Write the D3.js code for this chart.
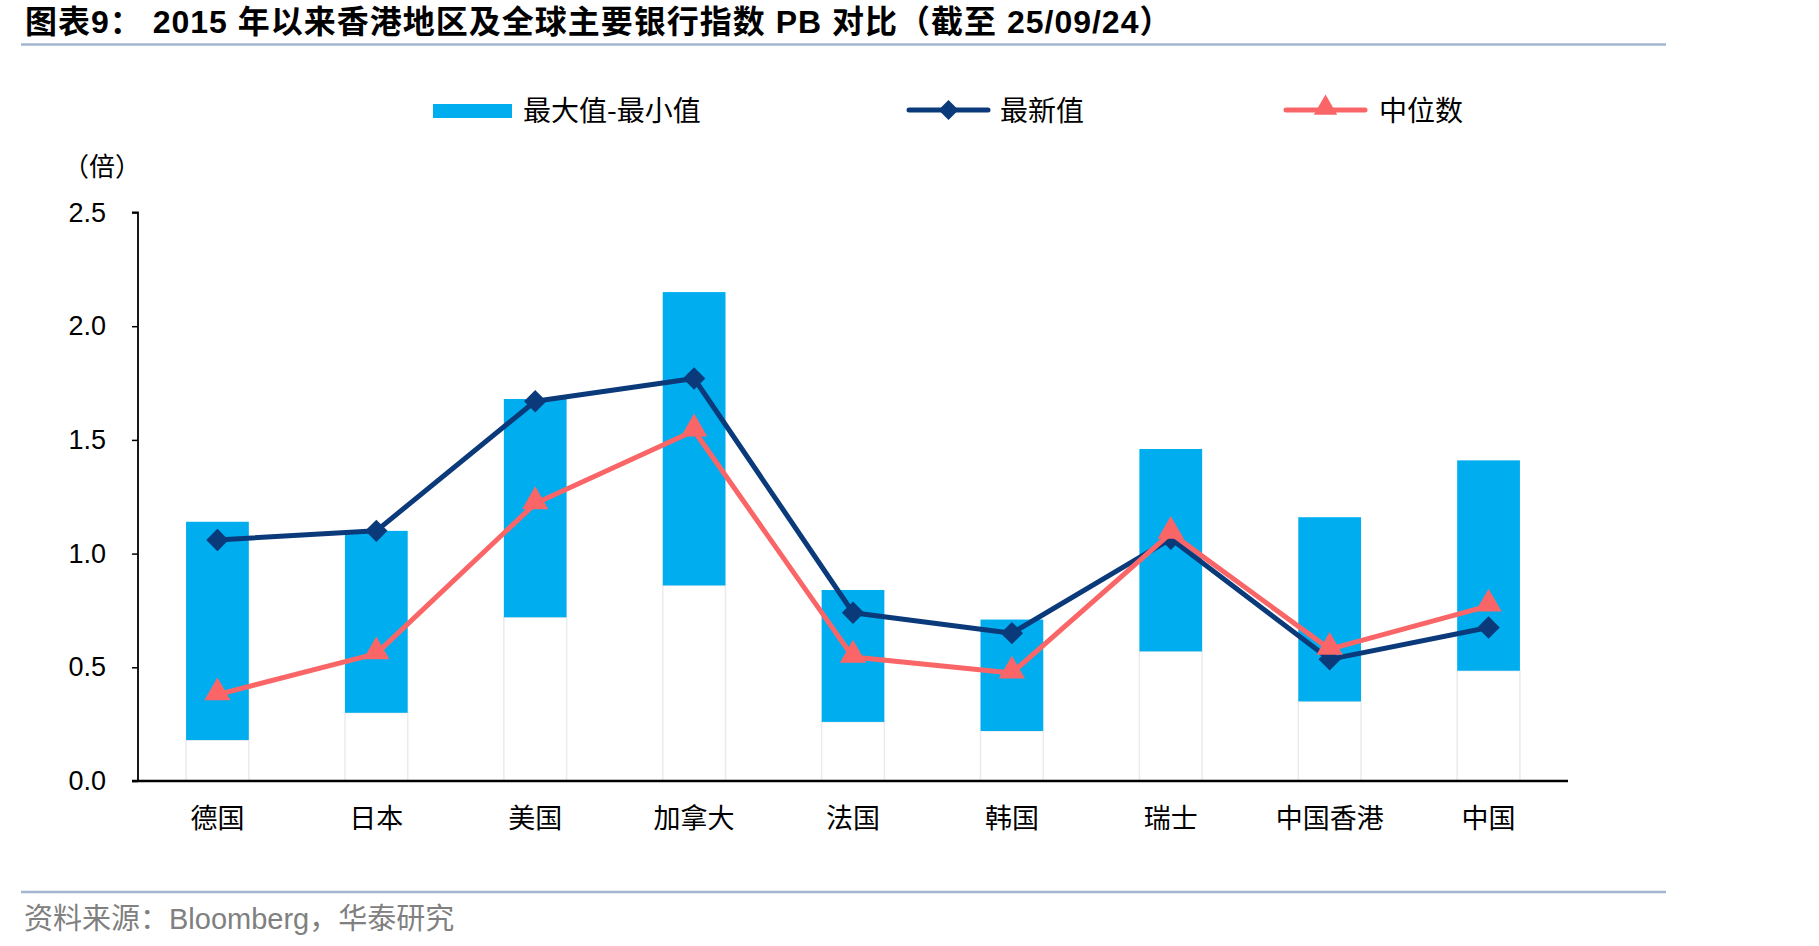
<!DOCTYPE html>
<html><head><meta charset="utf-8">
<script src="https://cdn.jsdelivr.net/npm/d3@7/dist/d3.min.js"></script>
<style>
html,body{margin:0;padding:0;background:#fff;}
svg{display:block;}
</style></head>
<body>
<svg id="chart" width="1819" height="946"></svg>
<script>
const categories = ["德国","日本","美国","加拿大","法国","韩国","瑞士","中国香港","中国"];
const maxValues = [1.14, 1.10, 1.68, 2.15, 0.84, 0.71, 1.46, 1.16, 1.41];
const minValues = [0.18, 0.30, 0.72, 0.86, 0.26, 0.22, 0.57, 0.35, 0.485];
const latestValues = [1.06, 1.10, 1.67, 1.77, 0.74, 0.65, 1.065, 0.535, 0.675];
const medianValues = [0.38, 0.56, 1.22, 1.54, 0.545, 0.475, 1.09, 0.58, 0.77];
const yTicks = [0, 0.5, 1.0, 1.5, 2.0, 2.5];
const legendLabels = ["最大值-最小值","最新值","中位数"];

(function(){
const C_BAR = "#00AEEF", C_LATEST = "#0B3A7B", C_MED = "#FA6667";
const CJK = "'Noto Sans CJK SC', 'Noto Sans CJK JP', sans-serif";
const LAT = "'Liberation Sans', Arial, 'Noto Sans CJK SC', sans-serif";

const svg = d3.select("#chart");
const pLeft = 138, pRight = 1568, pTop = 212.5, pBottom = 781;

const x = d3.scaleBand().domain(categories).range([pLeft, pRight]).paddingInner(0.605).paddingOuter(0.3025);
const y = d3.scaleLinear().domain([0, 2.5]).range([pBottom, pTop]);

// Title
svg.append("text").attr("x", 25).attr("y", 33).attr("font-family", LAT).attr("font-weight", "bold")
  .attr("font-size", 32).attr("letter-spacing", 1).attr("fill", "#000")
  .text("图表9： 2015 年以来香港地区及全球主要银行指数 PB 对比（截至 25/09/24）");
svg.append("line").attr("x1", 21).attr("x2", 1666).attr("y1", 44.5).attr("y2", 44.5)
  .attr("stroke", "#A3B6CF").attr("stroke-width", 2.5);

// Bottom rule and source
svg.append("line").attr("x1", 21).attr("x2", 1666).attr("y1", 892).attr("y2", 892)
  .attr("stroke", "#A3B6CF").attr("stroke-width", 2.5);
svg.append("text").attr("x", 24).attr("y", 929).attr("font-family", LAT)
  .attr("font-size", 29).attr("fill", "#808080").text("资料来源：Bloomberg，华泰研究");

// Unit label
svg.append("text").attr("x", 63).attr("y", 176).attr("font-family", CJK)
  .attr("font-size", 26).attr("fill", "#000").text("（倍）");

// Legend
const lg = svg.append("g");
lg.append("rect").attr("x", 433).attr("y", 104).attr("width", 79).attr("height", 14).attr("fill", C_BAR);
lg.append("text").attr("x", 523).attr("y", 121).attr("font-family", CJK).attr("font-size", 28).text(legendLabels[0]);
lg.append("line").attr("x1", 909).attr("x2", 988).attr("y1", 110).attr("y2", 110)
  .attr("stroke", C_LATEST).attr("stroke-width", 5).attr("stroke-linecap", "round");
lg.append("path").attr("transform", "translate(948.5,110) rotate(45)")
  .attr("d", d3.symbol().type(d3.symbolSquare).size(200)()).attr("fill", C_LATEST);
lg.append("text").attr("x", 1000).attr("y", 121).attr("font-family", CJK).attr("font-size", 28).text(legendLabels[1]);
lg.append("line").attr("x1", 1286).attr("x2", 1365).attr("y1", 110).attr("y2", 110)
  .attr("stroke", C_MED).attr("stroke-width", 5).attr("stroke-linecap", "round");
lg.append("path").attr("transform", "translate(1325.5,108)")
  .attr("d", d3.symbol().type(d3.symbolTriangle).size(240)()).attr("fill", C_MED);
lg.append("text").attr("x", 1379).attr("y", 121).attr("font-family", CJK).attr("font-size", 28).text(legendLabels[2]);

// Bars: invisible base (0 to min) and visible range (min to max)
const bars = svg.append("g");
bars.selectAll("rect.base").data(categories).join("rect").attr("class", "base")
  .attr("x", d => x(d)).attr("width", x.bandwidth())
  .attr("y", (d, i) => y(minValues[i])).attr("height", (d, i) => y(0) - y(minValues[i]))
  .attr("fill", "#fff").attr("stroke", "#EBEBEB").attr("stroke-width", 1.5);
bars.selectAll("rect.range").data(categories).join("rect").attr("class", "range")
  .attr("x", d => x(d)).attr("width", x.bandwidth())
  .attr("y", (d, i) => y(maxValues[i])).attr("height", (d, i) => y(minValues[i]) - y(maxValues[i]))
  .attr("fill", C_BAR);

// Axes
const yAxis = svg.append("g").attr("transform", `translate(${pLeft},0)`)
  .call(d3.axisLeft(y).tickValues(yTicks).tickFormat(d3.format(".1f")).tickSize(6).tickPadding(26));
yAxis.select(".domain").attr("stroke", "#000").attr("stroke-width", 1.8).attr("d", `M-6,${pTop}H0V${pBottom}`);
yAxis.selectAll(".tick line").attr("stroke", "#000").attr("stroke-width", 1.5);
yAxis.selectAll(".tick text").attr("font-family", LAT).attr("font-size", 27).attr("fill", "#000");

const xAxis = svg.append("g").attr("transform", `translate(0,${pBottom})`)
  .call(d3.axisBottom(x).tickSize(0).tickPadding(23));
xAxis.select(".domain").attr("stroke", "#000").attr("stroke-width", 2.5).attr("d", `M${pLeft - 6},0H${pRight}`);
xAxis.selectAll(".tick text").attr("font-family", CJK).attr("font-size", 27).attr("fill", "#000").attr("dy", "0.9em");

const cx = (d) => x(d) + x.bandwidth() / 2;

// Latest line
const lineGen = d3.line().x((v, i) => cx(categories[i])).y(v => y(v));
svg.append("path").attr("d", lineGen(latestValues)).attr("fill", "none")
  .attr("stroke", C_LATEST).attr("stroke-width", 5).attr("stroke-linejoin", "round");
svg.append("g").selectAll("path").data(latestValues).join("path")
  .attr("transform", (v, i) => `translate(${cx(categories[i])},${y(v)}) rotate(45)`)
  .attr("d", d3.symbol().type(d3.symbolSquare).size(250)()).attr("fill", C_LATEST);

// Median line
svg.append("path").attr("d", lineGen(medianValues)).attr("fill", "none")
  .attr("stroke", C_MED).attr("stroke-width", 5).attr("stroke-linejoin", "round");
svg.append("g").selectAll("path").data(medianValues).join("path")
  .attr("transform", (v, i) => `translate(${cx(categories[i])},${y(v) - 2})`)
  .attr("d", d3.symbol().type(d3.symbolTriangle).size(300)()).attr("fill", C_MED);
})();
</script>
</body></html>
